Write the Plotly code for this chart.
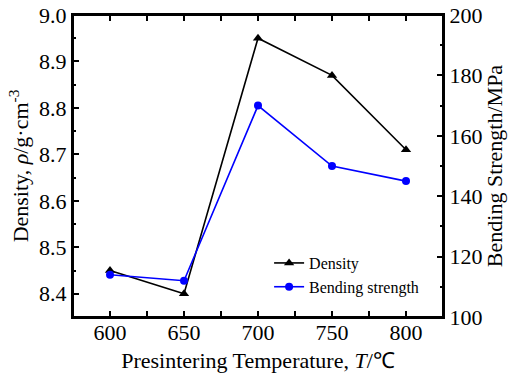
import plotly.graph_objects as go

temperature = [600, 650, 700, 750, 800]
density = [8.45, 8.40, 8.95, 8.87, 8.71]
bending_strength = [114, 112, 170, 150, 145]

FONT = "Liberation Serif"

fig = go.Figure()
fig.add_trace(go.Scatter(
    x=temperature, y=density, name="Density", mode="lines+markers",
    line=dict(color="black", width=1.6),
    marker=dict(symbol="triangle-up", size=9, color="black"),
    yaxis="y"))
fig.add_trace(go.Scatter(
    x=temperature, y=bending_strength, name="Bending strength", mode="lines+markers",
    line=dict(color="#0000ff", width=1.6),
    marker=dict(symbol="circle", size=8, color="#0000ff"),
    yaxis="y2"))

axis_common = dict(
    showline=True, linecolor="black", linewidth=2, ticks="inside",
    ticklen=6, tickwidth=1.5, tickcolor="black", showgrid=False, zeroline=False,
    automargin=False,
    tickfont=dict(family=FONT, size=22, color="black"),
)

fig.update_layout(
    width=509, height=385,
    margin=dict(l=73, r=66, t=15, b=68),
    paper_bgcolor="white", plot_bgcolor="white",
    font=dict(family=FONT, color="black"),
    xaxis=dict(
        **axis_common, range=[575, 825], tickvals=[600, 650, 700, 750, 800],
        mirror="allticks", ticklabelstandoff=-5,
        minor=dict(ticks="inside", ticklen=3, tickwidth=1.5, tickcolor="black", dtick=25, tick0=575),
        title=dict(text="Presintering Temperature, <i>T</i>/℃",
                   font=dict(family=FONT, size=22, color="black"), standoff=8),
    ),
    yaxis=dict(
        **axis_common, range=[8.35, 9.0], tickvals=[8.4, 8.5, 8.6, 8.7, 8.8, 8.9, 9.0],
        tickformat=".1f",
        minor=dict(ticks="inside", ticklen=3, tickwidth=1.5, tickcolor="black", dtick=0.05, tick0=8.35),
        title=dict(text="Density, <i>ρ</i>/g·cm<sup>-3</sup>",
                   font=dict(family=FONT, size=22, color="black"), standoff=4),
    ),
    yaxis2=dict(
        **axis_common, range=[100, 200], tickvals=[100, 120, 140, 160, 180, 200],
        overlaying="y", side="right",
        minor=dict(ticks="inside", ticklen=3, tickwidth=1.5, tickcolor="black", dtick=10, tick0=100),
        title=dict(text="Bending Strength/MPa",
                   font=dict(family=FONT, size=22, color="black"), standoff=4),
    ),
    legend=dict(
        x=0.53, y=0.235, xanchor="left", yanchor="top",
        bgcolor="rgba(0,0,0,0)", font=dict(family=FONT, size=16, color="black"),
        tracegroupgap=0,
    ),
    shapes=[dict(type="rect", xref="paper", yref="paper", x0=0, x1=1, y0=0, y1=1,
                 line=dict(color="black", width=2), fillcolor="rgba(0,0,0,0)", layer="above")],
    showlegend=True,
)

fig.write_html("out.html")
